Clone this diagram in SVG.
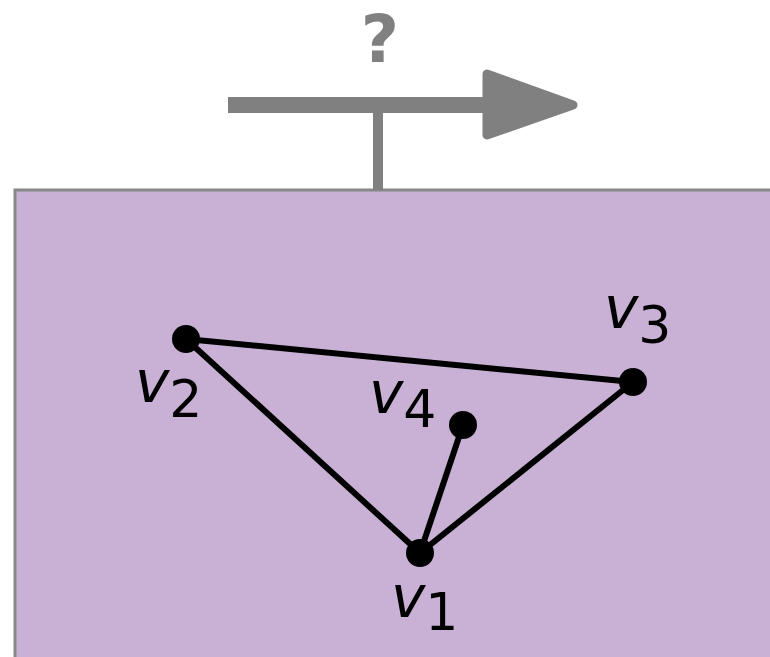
<svg xmlns="http://www.w3.org/2000/svg" width="770" height="657" viewBox="0 0 770 657">
<style>
.edge{stroke:#000;stroke-width:6;fill:none}
.node{fill:#000}
.lbl{font-family:"DejaVu Sans",sans-serif;fill:#000}
.v{font-style:italic;font-size:58px}
.sub{font-size:52px}
</style>
<rect id="plane" x="15" y="190" width="800" height="520" fill="#C9B1D6" stroke="#888888" stroke-width="3"/>
<g id="direction">
<line x1="228" y1="105" x2="490" y2="105" stroke="#808080" stroke-width="16"/>
<polygon points="487,74 573,105 487,135" fill="#808080" stroke="#808080" stroke-width="9" stroke-linejoin="round"/>
<line x1="378" y1="110" x2="378" y2="190" stroke="#808080" stroke-width="10"/>
<text x="380" y="62" text-anchor="middle" font-family="DejaVu Sans,sans-serif" font-weight="600" font-size="66" fill="#808080">?</text>
</g>
<g id="connectors">
<line class="edge" x1="186" y1="339" x2="633" y2="382"/>
<line class="edge" x1="186" y1="339" x2="420" y2="553"/>
<line class="edge" x1="420" y1="553" x2="633" y2="382"/>
<line class="edge" x1="420" y1="553" x2="463" y2="425"/>
</g>
<g id="v1"><circle class="node" cx="420" cy="553" r="14"/><text class="lbl" x="391" y="617"><tspan class="v">v</tspan><tspan class="sub" dy="13">1</tspan></text></g>
<g id="v2"><circle class="node" cx="186" cy="339" r="14"/><text class="lbl" x="135" y="402"><tspan class="v">v</tspan><tspan class="sub" dy="15">2</tspan></text></g>
<g id="v3"><circle class="node" cx="633" cy="382" r="14"/><text class="lbl" x="604" y="328"><tspan class="v">v</tspan><tspan class="sub" dy="15">3</tspan></text></g>
<g id="v4"><circle class="node" cx="463" cy="425" r="14"/><text class="lbl" x="369" y="413"><tspan class="v">v</tspan><tspan class="sub" dy="14">4</tspan></text></g>
</svg>
